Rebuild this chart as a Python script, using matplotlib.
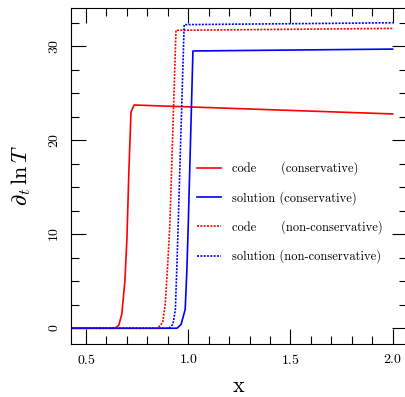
import matplotlib
matplotlib.use("Agg")
import matplotlib.pyplot as plt
from matplotlib.ticker import MultipleLocator

plt.rcParams['font.family'] = ['cmr10', 'DejaVu Serif']
plt.rcParams['mathtext.fontset'] = 'cm'
plt.rcParams['axes.formatter.use_mathtext'] = True

# code, conservative
x_code_c = [0.40, 0.64, 0.66, 0.675, 0.69, 0.70, 0.71, 0.72, 0.735, 2.0]
y_code_c = [0.0, 0.0, 0.3, 1.5, 5.0, 9.5, 17.0, 23.0, 23.75, 22.8]

# solution, conservative
x_sol_c = [0.40, 0.945, 0.965, 0.985, 0.993, 1.0, 1.023, 2.0]
y_sol_c = [0.0, 0.0, 0.4, 2.0, 6.0, 11.0, 29.5, 29.7]

# code, non-conservative
x_code_nc = [0.40, 0.85, 0.875, 0.888, 0.90, 0.91, 0.94, 2.0]
y_code_nc = [0.0, 0.0, 0.6, 2.7, 7.0, 11.0, 31.7, 31.9]

# solution, non-conservative
x_sol_nc = [0.40, 0.905, 0.925, 0.937, 0.945, 0.95, 0.98, 2.0]
y_sol_nc = [0.0, 0.0, 0.4, 2.0, 7.0, 10.5, 32.3, 32.5]

labels = ['code      (conservative)',
          'solution (conservative)',
          'code      (non-conservative)',
          'solution (non-conservative)']

fig = plt.figure(figsize=(4.06, 3.97), dpi=100)
ax = fig.add_axes([71/406, 53.5/397, 336/406, 336/397])

dots = (0, (1.2, 0.8))
ax.plot(x_code_c, y_code_c, color='red', lw=1.2, label=labels[0])
ax.plot(x_sol_c, y_sol_c, color='blue', lw=1.2, label=labels[1])
ax.plot(x_code_nc, y_code_nc, color='red', lw=1.2, ls=dots, label=labels[2])
ax.plot(x_sol_nc, y_sol_nc, color='blue', lw=1.2, ls=dots, label=labels[3])

ax.set_xlim(0.4265, 2.07)

ax.xaxis.set_major_locator(MultipleLocator(0.5))
ax.xaxis.set_minor_locator(MultipleLocator(0.1))
ax.yaxis.set_major_locator(MultipleLocator(10))
ax.yaxis.set_minor_locator(MultipleLocator(2.5))
ax.tick_params(which='both', direction='in', top=True, right=True, width=0.8)
ax.tick_params(which='major', length=11, labelsize=10, pad=7)
ax.tick_params(which='minor', length=5.5)
ax.tick_params(axis='y', labelrotation=90)
for lab in ax.get_yticklabels():
    lab.set_va('center')

ax.set_xlabel('x', fontsize=16, labelpad=7)
ax.set_ylabel(r'$\partial_t\,\ln T$', fontsize=16, labelpad=11)

ax.legend(loc='center', bbox_to_anchor=(0.652, 0.39), frameon=False,
          fontsize=9, handlelength=1.9, handletextpad=0.9, labelspacing=1.25)

fig.savefig('out.png', dpi=100)
